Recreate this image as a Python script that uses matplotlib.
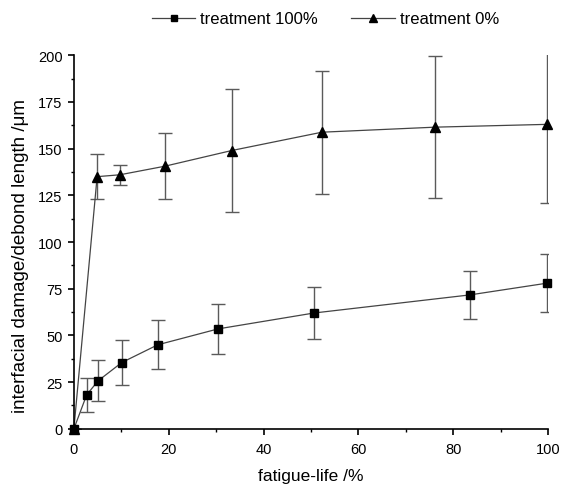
import numpy as np
import matplotlib.pyplot as plt
from matplotlib.ticker import MultipleLocator

plt.rcParams['font.family'] = ['Liberation Sans', 'DejaVu Sans']

# treatment 100%
x100 = [0, 2.7, 5.1, 10.1, 17.7, 30.4, 50.6, 83.5, 99.8]
y100 = [0, 18.2, 25.7, 35.5, 45.0, 53.5, 62.0, 71.7, 78.0]
e100 = [0, 9.0, 11.0, 12.3, 13.0, 13.4, 14.0, 13.0, 15.5]

# treatment 0%
x0 = [0, 4.9, 9.7, 19.2, 33.3, 52.3, 76.2, 99.8]
y0 = [0, 135.0, 136.0, 140.6, 149.0, 158.8, 161.5, 163.0]
e0 = [0, 12.0, 5.5, 17.6, 33.0, 33.0, 38.0, 42.0]

fig = plt.figure(figsize=(5.64, 4.89), dpi=100)
ax = fig.add_axes([0.131, 0.121, 0.841, 0.764])

ax.errorbar(x100, y100, yerr=e100, fmt='none', ecolor='#5a5a5a', elinewidth=1.0,
            capsize=5, capthick=1.0)
ax.errorbar(x0, y0, yerr=e0, fmt='none', ecolor='#5a5a5a', elinewidth=1.0,
            capsize=5, capthick=1.0)
ax.plot(x100, y100, '-', color='#444444', linewidth=0.9, marker='s', markersize=6,
        markerfacecolor='black', markeredgecolor='black', label='treatment 100%', clip_on=False)
ax.plot(x0, y0, '-', color='#444444', linewidth=0.9, marker='^', markersize=7,
        markerfacecolor='black', markeredgecolor='black', label='treatment 0%', clip_on=False)

ax.set_xlim(0, 100)
ax.set_ylim(0, 200)
ax.xaxis.set_major_locator(MultipleLocator(20))
ax.xaxis.set_minor_locator(MultipleLocator(10))
ax.yaxis.set_major_locator(MultipleLocator(25))
ax.yaxis.set_minor_locator(MultipleLocator(12.5))
ax.tick_params(which='major', direction='out', length=4.5, width=1.2, labelsize=10.5)
ax.tick_params(axis='x', which='major', pad=5)
ax.tick_params(axis='y', which='major', pad=3.6)
ax.tick_params(which='minor', direction='out', length=2.5, width=1.0)
ax.spines['top'].set_visible(False)
ax.spines['right'].set_visible(False)
ax.spines['left'].set_linewidth(1.2)
ax.spines['bottom'].set_linewidth(1.2)

fig.text(310.5 / 564, 1 - 477 / 489, 'fatigue-life /%', fontsize=12.5,
         ha='center', va='center')
fig.text(21 / 564, 1 - 256 / 489, 'interfacial damage/debond length /μm', fontsize=13.5,
         rotation=90, ha='center', va='center')

fig.legend(loc='center', bbox_to_anchor=((148 + 503) / 2 / 564, 1 - 20 / 489), ncol=2,
           frameon=False, fontsize=12, handlelength=2.6, handletextpad=0.3,
           columnspacing=2.0, borderpad=0, markerscale=0.75)

fig.savefig('out.png', dpi=100)
